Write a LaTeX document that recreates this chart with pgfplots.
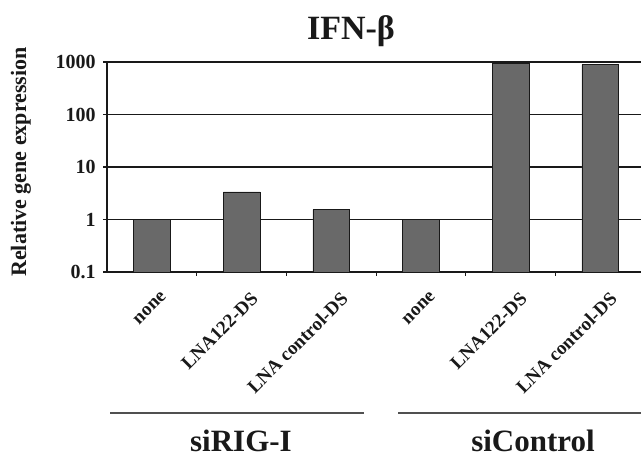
\documentclass[border=0pt]{standalone}
\usepackage{pgfplots}
\pgfplotsset{compat=1.18}
\usepackage{fontspec}
\setmainfont{Liberation Serif}
\definecolor{barfill}{RGB}{105,105,105}
\definecolor{ink}{RGB}{25,25,25}
\definecolor{lineg}{RGB}{80,80,80}
\begin{document}
\begin{tikzpicture}
\useasboundingbox (0pt,0pt) rectangle (641pt,460pt);
\begin{axis}[
  at={(107.2pt,188pt)}, anchor=south west,
  scale only axis, width=538pt, height=210pt,
  ymode=log, ymin=0.1, ymax=1000, log origin y=infty,
  xmin=-0.5, xmax=5.5,
  axis line style={ink, line width=1.5pt},
  tick align=outside, tick pos=left,
  tick style={ink, line width=1.2pt},
  major tick length=4pt,
  ytick={0.1,1,10,100,1000},
  yticklabels={0.1,1,10,100,1000},
  yminorticks=false,
  ymajorgrids, grid style={ink, line width=1.2pt},
  y tick label style={font=\fontsize{20}{20}\selectfont\bfseries, text=ink, xshift=-4pt},
  x tick label style={rotate=45, anchor=north east, font=\fontsize{19}{19}\selectfont\bfseries, text=ink, xshift=-4pt, yshift=-16pt},
  xtick={0.5,1.5,2.5,3.5,4.5},
  xticklabels={},
  extra x ticks={0,1,2,3,4,5},
  extra x tick labels={none,LNA122-DS,LNA control-DS,none,LNA122-DS,LNA control-DS},
  extra x tick style={major tick length=0pt},
  /pgf/number format/assume math mode=true,
]
\addplot[ybar, bar width=0.41, fill=barfill, draw=ink, line width=0.8pt]
  coordinates {(0,1) (1,3.35) (2,1.55) (3,1.02) (4,940) (5,890)};
\end{axis}
\node[font=\fontsize{34}{34}\selectfont\bfseries, text=ink, anchor=base] at (351pt,420pt) {IFN-β};
\node[rotate=90, font=\fontsize{22}{22}\selectfont\bfseries, text=ink] at (21pt,298pt) {Relative gene expression};
\draw[line width=2pt, lineg] (110pt,47pt) -- (364pt,47pt);
\draw[line width=2pt, lineg] (398pt,47pt) -- (645pt,47pt);
\node[font=\fontsize{31}{31}\selectfont\bfseries, text=ink, anchor=base] at (241pt,8pt) {siRIG-I};
\node[font=\fontsize{31}{31}\selectfont\bfseries, text=ink, anchor=base] at (533pt,8pt) {siControl};
\end{tikzpicture}
\end{document}
